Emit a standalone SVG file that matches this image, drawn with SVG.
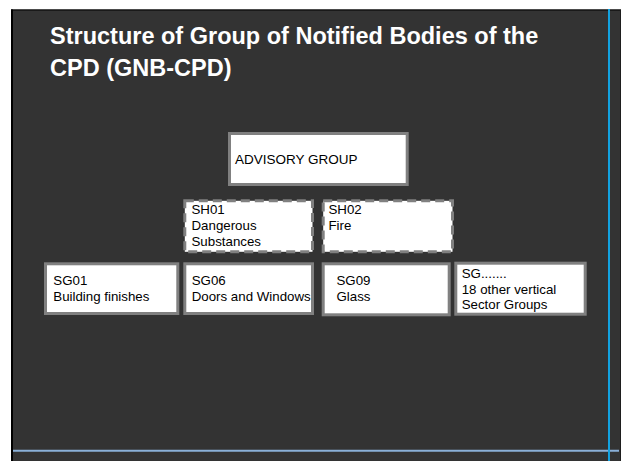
<svg xmlns="http://www.w3.org/2000/svg" width="621" height="461" viewBox="0 0 621 461">
<style>
.box{fill:#ffffff;stroke:#808080;stroke-width:3}
.dash{fill:#ffffff;stroke:#808080;stroke-width:3;stroke-dasharray:9 5}
.t{font-family:"Liberation Sans",Arial,sans-serif;font-size:13.3px;fill:#000000}
.title{font-family:"Liberation Sans",Arial,sans-serif;font-size:23.5px;font-weight:bold;fill:#ffffff}
</style>
<rect x="0" y="0" width="621" height="461" fill="#ffffff"/>
<rect x="11" y="9.5" width="610" height="452" fill="#333333"/>
<line x1="12" y1="9.5" x2="12" y2="461" stroke="#000000" stroke-width="2"/>
<line x1="11" y1="10" x2="621" y2="10" stroke="#000000" stroke-width="1"/>
<line x1="620.5" y1="10" x2="620.5" y2="461" stroke="#1e1e1e" stroke-width="1"/>
<line x1="13" y1="450.7" x2="619" y2="450.7" stroke="#8ab0d8" stroke-width="2"/>
<line x1="609" y1="9" x2="609" y2="461" stroke="#12a2e0" stroke-width="2"/>
<g id="title">
<text class="title" x="50" y="44.4">Structure of Group of Notified Bodies of the</text>
<text class="title" x="50" y="76">CPD (GNB-CPD)</text>
</g>
<g id="connectors"></g>
<g id="advisory">
<rect class="box" x="229.5" y="133.5" width="177.7" height="51"/>
<text class="t" x="235" y="164" style="font-size:13.5px">ADVISORY GROUP</text>
</g>
<g id="sh01">
<rect class="dash" x="184.8" y="200.8" width="127.7" height="51"/>
<text class="t" x="191.5" y="214">SH01</text>
<text class="t" x="191.5" y="230">Dangerous</text>
<text class="t" x="191.5" y="246">Substances</text>
</g>
<g id="sh02">
<rect class="dash" x="323.2" y="200.8" width="129.3" height="51"/>
<text class="t" x="328.5" y="214">SH02</text>
<text class="t" x="328.5" y="230">Fire</text>
</g>
<g id="sg01">
<rect class="box" x="45.5" y="263.8" width="132.3" height="49.7"/>
<text class="t" x="53.3" y="285">SG01</text>
<text class="t" x="53.3" y="300.7">Building finishes</text>
</g>
<g id="sg06">
<rect class="box" x="184.8" y="263.8" width="127.7" height="49.7"/>
<text class="t" x="191.7" y="285">SG06</text>
<text class="t" x="191.7" y="300.7">Doors and Windows</text>
</g>
<g id="sg09">
<rect class="box" x="323.2" y="263.8" width="126" height="51"/>
<text class="t" x="336.5" y="285">SG09</text>
<text class="t" x="336.5" y="300.7">Glass</text>
</g>
<g id="sgother">
<rect class="box" x="455.8" y="263.2" width="129.4" height="51" stroke-width="2.5"/>
<text class="t" x="461.7" y="278.3">SG.......</text>
<text class="t" x="461.7" y="293.8">18 other vertical</text>
<text class="t" x="461.7" y="309.3">Sector Groups</text>
</g>
</svg>
